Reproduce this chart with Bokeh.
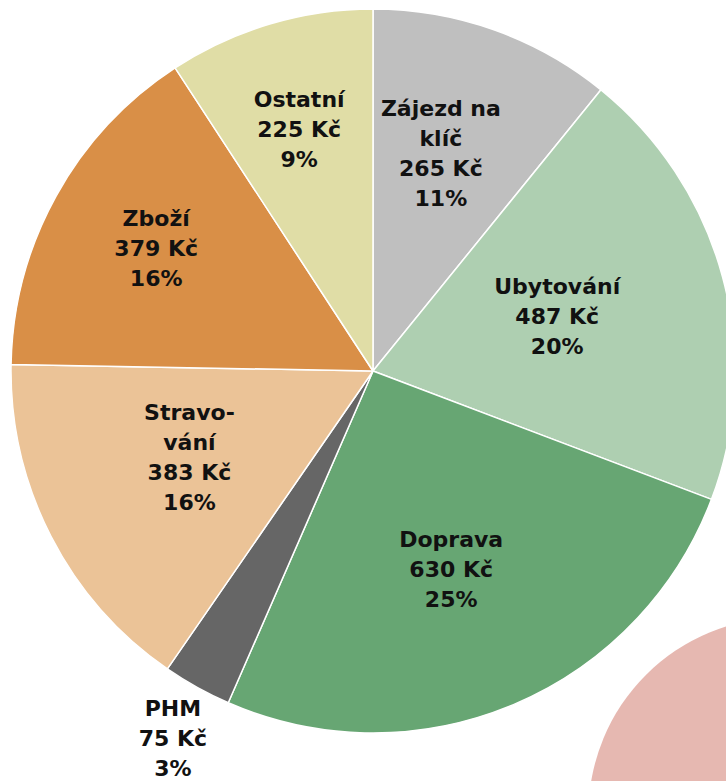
import math
from bokeh.plotting import figure
from bokeh.models import Range1d, ColumnDataSource
from bokeh.embed import file_html
from bokeh.resources import INLINE
from bokeh.core.properties import value

# ---- data ----
categories = ["Zájezd na klíč", "Ubytování", "Doprava", "PHM", "Stravování", "Zboží", "Ostatní"]
label_lines = [["Zájezd na", "klíč"], ["Ubytování"], ["Doprava"], ["PHM"],
               ["Stravo-", "vání"], ["Zboží"], ["Ostatní"]]
amounts = [265, 487, 630, 75, 383, 379, 225]
amount_labels = ["265 Kč", "487 Kč", "630 Kč", "75 Kč", "383 Kč", "379 Kč", "225 Kč"]
percent_labels = ["11%", "20%", "25%", "3%", "16%", "16%", "9%"]
colors = ["#BFBFBF", "#AECFB1", "#67A673", "#666666", "#EBC397", "#D98F47", "#E0DDA6"]

# ---- layout (pixel-like data space, y measured upward) ----
W, H = 726, 781
X0, Y0 = 0, 0
PAGE_H = 781
def py(v):
    return PAGE_H - v

CX, CY, R = 372.5, py(370.5), 362
label_r = [228, 192, 213, 418, 203, 249, 253]
label_shift_deg = [-2.2, -1.3, 1.3, -0.5, 1.9, 0.5, -0.4]
LINE_SPACING = 30

total = float(sum(amounts))
starts, ends, mids = [], [], []
cum = 0.0
for a in amounts:
    s = math.pi / 2 - 2 * math.pi * cum / total
    cum += a
    e = math.pi / 2 - 2 * math.pi * cum / total
    starts.append(s); ends.append(e); mids.append((s + e) / 2)

p = figure(width=W, height=H, x_range=Range1d(X0, X0 + W), y_range=Range1d(py(Y0 + H), py(Y0)),
           output_backend="svg", toolbar_location=None, min_border=0,
           background_fill_color="white", border_fill_color="white")
p.axis.visible = False
p.grid.visible = False
p.outline_line_color = None

src = ColumnDataSource(dict(start=starts, end=ends, color=colors, cat=categories))
p.wedge(x=CX, y=CY, radius=R, start_angle="start", end_angle="end", direction="clock",
        fill_color="color", line_color="white", line_width=1.5, source=src)

# partially visible neighbouring circle (bottom right)
p.circle(x=[784], y=[py(813)], radius=196, fill_color="#E6B8B1", line_color=None)

xs, ys, texts = [], [], []
for i in range(len(amounts)):
    lines = label_lines[i] + [amount_labels[i], percent_labels[i]]
    ang = mids[i] - math.radians(label_shift_deg[i])
    lx = CX + label_r[i] * math.cos(ang)
    ly = CY + label_r[i] * math.sin(ang)
    n = len(lines)
    for j, t in enumerate(lines):
        xs.append(lx)
        ys.append(ly - (j - (n - 1) / 2) * LINE_SPACING)
        texts.append(t)

p.text(x=xs, y=ys, text=texts, text_align="center", text_baseline="middle",
       text_font=value("DejaVu Sans"), text_font_style="bold", text_font_size="22px",
       text_color="#111111")

open("out.html", "w").write(file_html(p, INLINE))
